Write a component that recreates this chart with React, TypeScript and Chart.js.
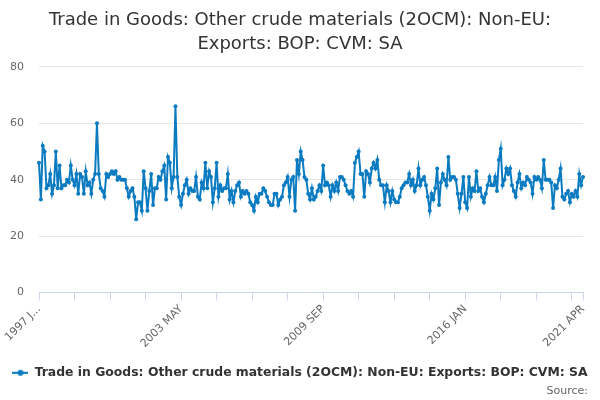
import { useEffect, useRef } from 'react';
import { Chart, registerables } from 'chart.js';

Chart.register(...registerables);

const MONTHS = ['JAN', 'FEB', 'MAR', 'APR', 'MAY', 'JUN', 'JUL', 'AUG', 'SEP', 'OCT', 'NOV', 'DEC'];

// monthly categories, 1997 JAN .. 2021 APR
const categories: string[] = [];
for (let y = 1997; y <= 2021; y++) {
  for (let m = 0; m < 12; m++) {
    if (y === 2021 && m > 3) break;
    categories.push(`${y} ${MONTHS[m]}`);
  }
}

// labels shown under the x axis (every 76 months, plus the last month)
const tickLabels = ['1997 J...', '2003 MAY', '2009 SEP', '2016 JAN', '2021 APR'];

// values, £ million CVM
const values1997to2000 = [
  46, 33, 52, 50, 37, 38, 42, 35, 38, 50, 37, 45, 37, 38, 38, 40, 39, 45, 40, 38, 42, 35, 42, 41,
  35, 43, 38, 39, 35, 40, 42, 60, 42, 37, 36, 34, 42, 41, 42, 43, 42, 43, 40, 41, 40, 40, 40, 37,
];
const values2001to2004 = [
  34, 36, 37, 34, 26, 32, 32, 29, 43, 37, 29, 36, 42, 31, 37, 37, 41, 40, 43, 45, 33, 48, 46, 37,
  41, 66, 41, 34, 31, 35, 38, 40, 35, 37, 36, 36, 41, 34, 33, 39, 37, 46, 37, 43, 41, 32, 37, 46,
];
const values2005to2008 = [
  34, 38, 36, 37, 37, 42, 33, 36, 32, 36, 38, 39, 34, 36, 35, 36, 35, 32, 31, 29, 34, 32, 35, 35,
  37, 36, 34, 32, 31, 31, 35, 35, 31, 33, 34, 38, 39, 41, 34, 40, 41, 29, 47, 42, 50, 47, 41, 40,
];
const values2009to2012 = [
  35, 33, 37, 33, 34, 36, 38, 36, 45, 38, 39, 38, 34, 38, 36, 39, 36, 41, 41, 40, 38, 36, 35, 36,
  34, 46, 48, 50, 42, 42, 34, 43, 42, 39, 44, 46, 44, 47, 40, 38, 38, 32, 38, 36, 32, 36, 33, 32,
];
const values2013to2016 = [
  32, 34, 37, 38, 39, 39, 42, 38, 40, 36, 38, 44, 38, 40, 41, 38, 34, 29, 35, 33, 37, 44, 31, 39,
  42, 40, 38, 48, 40, 41, 41, 40, 35, 30, 35, 41, 32, 30, 41, 34, 37, 36, 43, 36, 37, 34, 32, 35,
];
const values2017to2021 = [
  38, 41, 38, 38, 41, 36, 47, 51, 38, 40, 44, 42, 44, 38, 36, 34, 39, 42, 37, 39, 38, 41, 40, 39,
  35, 41, 40, 41, 40, 37, 47, 40, 40, 40, 39, 30, 38, 37, 40, 44, 34, 33, 35, 36, 32, 35, 34, 36,
  34, 42, 38, 41,
];

const series = [
  ...values1997to2000,
  ...values2001to2004,
  ...values2005to2008,
  ...values2009to2012,
  ...values2013to2016,
  ...values2017to2021,
];

const titleLines = ['Trade in Goods: Other crude materials (2OCM): Non-EU:', 'Exports: BOP: CVM: SA'];
const seriesName = 'Trade in Goods: Other crude materials (2OCM): Non-EU: Exports: BOP: CVM: SA';

const FONT = '"DejaVu Sans", Verdana, sans-serif';
const LINE = '#0b7bc1';
const LAST = categories.length - 1;

const sourcePlugin = {
  id: 'sourceNote',
  afterDraw(chart: Chart) {
    const ctx = chart.ctx;
    ctx.save();
    ctx.font = `11px ${FONT}`;
    ctx.fillStyle = '#666';
    ctx.textAlign = 'right';
    ctx.textBaseline = 'middle';
    ctx.fillText('Source:', 588, 391);
    ctx.restore();
  },
};

export default function App() {
  const chartRef = useRef<HTMLCanvasElement | null>(null);
  const chartInstance = useRef<Chart | null>(null);

  useEffect(() => {
    if (!chartRef.current) return;
    if (chartInstance.current) chartInstance.current.destroy();

    // legend symbol: short line with a dot
    const sym = document.createElement('canvas');
    sym.width = 16;
    sym.height = 8;
    const sc = sym.getContext('2d');
    if (sc) {
      sc.strokeStyle = LINE;
      sc.lineWidth = 2;
      sc.beginPath();
      sc.moveTo(0, 4);
      sc.lineTo(16, 4);
      sc.stroke();
      sc.fillStyle = LINE;
      sc.beginPath();
      sc.arc(8, 4, 3, 0, Math.PI * 2);
      sc.fill();
    }

    chartInstance.current = new Chart(chartRef.current, {
      type: 'line',
      data: {
        labels: categories,
        datasets: [
          {
            label: seriesName,
            data: series,
            borderColor: LINE,
            backgroundColor: LINE,
            borderWidth: 2,
            pointRadius: 2,
            pointBorderWidth: 0,
            pointBackgroundColor: LINE,
            tension: 0,
          },
        ],
      },
      options: {
        animation: false,
        responsive: false,
        layout: { padding: { left: 0, right: 0, top: 0, bottom: 11 } },
        plugins: {
          title: {
            display: true,
            text: titleLines,
            color: '#333',
            font: { family: FONT, size: 18, weight: 'normal', lineHeight: 1.3 },
            padding: { top: 9, bottom: 11 },
          },
          legend: {
            position: 'bottom',
            labels: {
              usePointStyle: true,
              pointStyle: sym,
              pointStyleWidth: 16,
              color: '#333',
              font: { family: FONT, size: 12.4, weight: 'bold' },
              padding: 10,
            },
          },
          tooltip: { enabled: false },
        },
        scales: {
          x: {
            grid: {
              drawOnChartArea: false,
              tickLength: 8,
              tickColor: (ctx: any) => (ctx.index % 19 === 0 || ctx.index === LAST ? '#ccd6eb' : 'rgba(0,0,0,0)'),
            },
            border: { color: '#ccd6eb' },
            ticks: {
              autoSkip: false,
              maxRotation: 45,
              minRotation: 45,
              color: '#666',
              font: { family: FONT, size: 11 },
              padding: 2,
              callback: (_v: any, i: number) => {
                if (i === LAST) return tickLabels[tickLabels.length - 1];
                if (i % 76 === 0) return tickLabels[i / 76];
                return '';
              },
            },
            afterFit: (s: any) => {
              s.height = 64;
            },
          },
          y: {
            min: 0,
            max: 80,
            ticks: { stepSize: 20, color: '#666', font: { family: FONT, size: 11 }, padding: 15 },
            grid: { color: '#e6e6e6', drawTicks: false },
            border: { display: false },
            afterFit: (s: any) => {
              s.width = 39;
            },
          },
          y2: {
            position: 'right',
            grid: { display: false },
            ticks: { display: false },
            border: { display: false },
            afterFit: (s: any) => {
              s.width = 17;
            },
          },
        },
      },
      plugins: [sourcePlugin],
    });

    return () => {
      if (chartInstance.current) {
        chartInstance.current.destroy();
        chartInstance.current = null;
      }
    };
  }, []);

  return (
    <div style={{ position: 'fixed', left: 0, top: 0, width: 600, height: 400, background: '#fff' }}>
      <canvas ref={chartRef} width={600} height={400} style={{ display: 'block' }}></canvas>
    </div>
  );
}
